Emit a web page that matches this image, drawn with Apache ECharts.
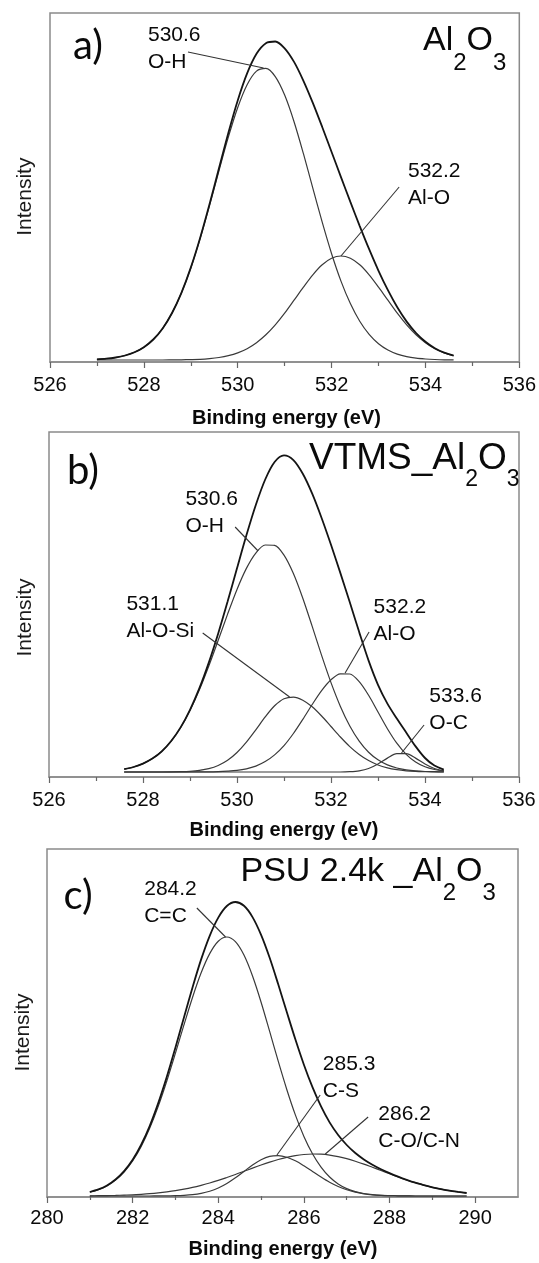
<!DOCTYPE html>
<html><head><meta charset="utf-8">
<script src="https://cdn.jsdelivr.net/npm/echarts@6/dist/echarts.min.js"></script>
<style>html,body{margin:0;padding:0;background:#fff}#c{width:539px;height:1263px}</style>
</head><body><div id="c"></div>
<script>
// ---------- Panel a: Al2O3, O 1s ----------
const energyA = [527.0,527.2,527.4,527.6,527.8,528.0,528.2,528.4,528.6,528.8,529.0,529.2,529.4,529.6,529.8,530.0,530.2,530.4,530.6,530.8,531.0,531.2,531.4,531.6,531.8,532.0,532.2,532.4,532.6,532.8,533.0,533.2,533.4,533.6,533.8,534.0,534.2,534.4,534.6];
const ohA  = [0.7,1.3,2.5,4.5,7.7,12.8,20.5,31.6,46.9,67.0,92.0,121.6,154.6,189.2,222.8,252.5,275.3,288.9,291.6,283.4,264.9,238.3,206.3,171.9,137.8,106.3,78.9,56.4,38.7,25.6,16.3,10.0,5.9,3.3,1.8,1.0,0.5,0.2,0.1];
const aloA = [0,0,0,0,0,0,0,0,0.1,0.2,0.4,0.7,1.4,2.5,4.3,7.1,11.3,17.3,25.2,35.1,46.8,59.8,72.9,85.2,95.2,101.7,104.0,101.7,95.2,85.2,72.9,59.8,46.8,35.1,25.2,17.3,11.3,7.1,4.3];
const envA = [0.7,1.3,2.5,4.5,7.7,12.8,20.5,31.6,47.0,67.2,92.4,122.3,156.0,191.7,227.1,259.6,286.6,306.2,316.8,318.5,311.7,298.1,279.2,257.1,233.0,208.0,182.9,158.1,133.9,110.8,89.2,69.8,52.7,38.4,27.0,18.3,11.8,7.3,4.4];
const leadersA = [[528.94,308,530.55,292],[533.44,173,532.2,104]];

// ---------- Panel b: VTMS_Al2O3, O 1s ----------
const energyB = [527.6,527.8,528.0,528.2,528.4,528.6,528.8,529.0,529.2,529.4,529.6,529.8,530.0,530.2,530.4,530.6,530.8,531.0,531.2,531.4,531.6,531.8,532.0,532.2,532.4,532.6,532.8,533.0,533.2,533.4,533.6,533.8,534.0,534.2,534.4];
const ohB    = [2.9,5.0,8.4,13.4,20.7,30.9,44.3,61.5,82.2,106.0,131.7,157.9,182.6,203.6,218.9,227.0,226.7,216.9,198.5,173.8,145.6,116.6,89.4,65.6,46.0,30.9,19.8,12.2,7.1,4.0,2.2,1.1,0.5,0.3,0.1];
const aloSiB = [0,0,0,0,0,0.1,0.3,0.7,1.6,3.3,6.5,11.7,19.5,29.9,42.2,55.1,66.2,73.3,74.9,71.8,65.2,56.0,45.5,35.0,25.4,17.5,11.4,7.0,4.1,2.3,1.2,0.6,0.3,0.1,0.1];
const aloB   = [0,0,0,0,0,0,0,0,0.1,0.1,0.3,0.8,1.6,3.2,5.9,10.4,17.1,26.4,38.5,52.6,67.5,81.4,92.3,98.2,98.0,90.3,76.7,60.0,43.3,28.8,17.7,10.0,5.2,2.5,1.1];
const ocB    = [0,0,0,0,0,0,0,0,0,0,0,0,0,0,0,0,0,0,0,0,0,0,0,0,0.3,1.2,3.5,8.0,13.9,18.4,18.4,13.9,8.0,3.5,1.2];
const envB   = [2.9,5.0,8.4,13.4,20.7,31.0,44.6,62.2,83.8,109.4,138.5,170.4,203.7,236.7,267.0,292.5,310.0,316.6,311.9,298.2,278.3,254.0,227.2,198.9,169.7,139.9,111.4,87.2,68.4,53.5,39.5,25.6,14.0,6.4,2.4];
const leadersB = [[529.96,245,530.45,221],[529.27,139,531.12,75],[532.81,140,532.3,99],[533.98,47,533.5,19]];

// ---------- Panel c: PSU 2.4k_Al2O3, C 1s ----------
const energyC = [281.0,281.2,281.4,281.6,281.8,282.0,282.2,282.4,282.6,282.8,283.0,283.2,283.4,283.6,283.8,284.0,284.2,284.4,284.6,284.8,285.0,285.2,285.4,285.6,285.8,286.0,286.2,286.4,286.6,286.8,287.0,287.2,287.4,287.6,287.8,288.0,288.2,288.4,288.6,288.8,289.0,289.2,289.4,289.6,289.8];
const ccC  = [3.8,6.3,10.1,15.9,24.0,35.0,49.6,67.9,89.9,115.2,142.9,171.3,198.8,223.2,242.4,254.8,259.0,254.3,240.9,220.0,193.8,164.6,134.8,106.5,81.1,59.6,42.2,28.9,19.0,12.1,7.4,4.4,2.5,1.4,0.7,0.4,0.2,0.1,0,0,0,0,0,0,0];
const csC  = [0,0,0,0,0,0,0,0,0.1,0.1,0.3,0.7,1.4,2.7,4.8,8.0,12.5,18.2,24.6,31.0,36.3,39.7,40.4,38.8,35.2,30.2,24.6,18.9,13.7,9.5,6.2,3.8,2.2,1.2,0.6,0.3,0.2,0.1,0,0,0,0,0,0,0];
const coC  = [0.2,0.3,0.4,0.6,0.9,1.2,1.7,2.3,3.1,4.1,5.3,6.8,8.6,10.7,13.0,15.6,18.5,21.5,24.7,27.9,31.0,33.9,36.5,38.7,40.4,41.5,42.0,41.8,40.9,39.4,37.4,34.8,31.9,28.7,25.5,22.2,19.0,16.0,13.3,10.9,8.7,6.9,5.3,4.1,3.0];
const envC = [4.0,6.6,10.5,16.5,24.9,36.2,51.3,70.2,93.1,119.4,148.5,178.8,208.8,236.6,260.2,278.4,290.0,294.0,290.2,278.9,261.1,238.2,211.7,184.0,156.7,131.3,108.8,89.6,73.6,61.0,51.0,43.0,36.6,31.3,26.8,22.9,19.4,16.2,13.3,10.9,8.7,6.9,5.3,4.1,3.0];
const leadersC = [[283.50,288,284.17,259],[286.38,101,285.37,41],[287.50,79,286.5,42]];
const majorTicksC = [280,282,284,286,288,290];
const minorTicksC = [281,283,285,287,289];

const FONT = '"Liberation Sans", Arial, sans-serif';
const chart = echarts.init(document.getElementById('c'), null, {renderer:'canvas'});

const grids = [
  {left:50, top:13, width:473, height:349},
  {left:49, top:432, width:470, height:345},
  {left:47, top:849, width:471, height:348}
];
function gridOpt(g){ return Object.assign({show:true, borderColor:'#8a8a8a', borderWidth:1.5, backgroundColor:'transparent', containLabel:false}, g); }

function xAxisOpt(i, min, max, margin, extra){
  return Object.assign({
    gridIndex:i, type:'value', min:min, max:max, interval:2, position:'bottom',
    axisLine:{show:true, onZero:false, lineStyle:{color:'#8a8a8a', width:1.5}},
    axisTick:{show:true, length:6, lineStyle:{color:'#666', width:1.2}},
    minorTick:{show:true, splitNumber:2, length:4, lineStyle:{color:'#666', width:1.2}},
    axisLabel:{margin:margin, fontSize:20, color:'#0a0a0a', fontFamily:FONT},
    splitLine:{show:false}, minorSplitLine:{show:false}
  }, extra||{});
}
function yAxisOpt(i, min, max){
  return {gridIndex:i, type:'value', min:min, max:max, show:true,
    axisLine:{show:false}, axisTick:{show:false}, axisLabel:{show:false}, splitLine:{show:false}};
}

function pairs(xs, ys){ return xs.map((x,k)=>[x, ys[k]]); }
function leaderLines(list){
  return {silent:true, symbol:['none','none'], animation:false,
    lineStyle:{color:'#333', width:1.1, type:'solid'}, label:{show:false},
    emphasis:{disabled:true},
    data:list.map(l=>[{coord:[l[0],l[1]]},{coord:[l[2],l[3]]}])};
}
function comp(idx, xs, ys, ml){
  const s = {type:'line', xAxisIndex:idx, yAxisIndex:idx, data:pairs(xs,ys), showSymbol:false,
    smooth:0.3, lineStyle:{color:'#3a3a3a', width:1.2}, z:3, silent:true};
  if (ml) s.markLine = ml;
  return s;
}
function env(idx, xs, ys){
  return {type:'line', xAxisIndex:idx, yAxisIndex:idx, data:pairs(xs,ys), showSymbol:false,
    smooth:0.3, lineStyle:{color:'#141414', width:1.8}, z:4, silent:true};
}

// text helpers
function peakLabel(x, y, text){
  return {type:'text', x:x, y:y, silent:true,
    style:{text:text, fontSize:21, lineHeight:27, fontFamily:FONT, fill:'#0a0a0a', align:'left', verticalAlign:'top'}};
}
function formula(x, y, parts, M, S, P){
  const txt = parts.map(p=>'{'+p[0]+'|'+p[1]+'}').join('');
  return {type:'text', x:x, y:y, silent:true,
    style:{text:txt, align:'left', verticalAlign:'top', fill:'#0a0a0a',
      rich:{
        m:{fontSize:M, lineHeight:M, fontFamily:FONT, fill:'#0a0a0a', verticalAlign:'top'},
        s:{fontSize:S, lineHeight:S, fontFamily:FONT, fill:'#0a0a0a', verticalAlign:'top', padding:[P,0,0,0]}
      }}};
}
function panelLetter(x, y, t){
  return {type:'text', x:x, y:y, silent:true,
    style:{text:t, fontSize:40, fontFamily:'Lato, "Open Sans", sans-serif', fill:'#0a0a0a', align:'left', verticalAlign:'top'}};
}
function yTitle(x, y){
  return {type:'text', x:x, y:y, rotation:Math.PI/2, silent:true,
    style:{text:'Intensity', fontSize:21, fontFamily:FONT, fill:'#1a1a1a', align:'center', verticalAlign:'middle'}};
}
function xTitle(x, y){
  return {type:'text', x:x, y:y, silent:true,
    style:{text:'Binding energy (eV)', fontSize:20, fontWeight:'bold', fontFamily:FONT, fill:'#0a0a0a', align:'center', verticalAlign:'top'}};
}

const option = {
  animation:false,
  backgroundColor:'#ffffff',
  grid: grids.map(gridOpt),
  xAxis:[
    xAxisOpt(0, 526, 536, 13),
    xAxisOpt(1, 526, 536, 13),
    xAxisOpt(2, 280, 291, 11, {
      minorTick:{show:false},
      axisTick:{show:true, length:6, customValues:majorTicksC, lineStyle:{color:'#666', width:1.2}},
      axisLabel:{margin:11, fontSize:20, color:'#0a0a0a', fontFamily:FONT, customValues:majorTicksC}
    }),
    {gridIndex:2, type:'value', min:280, max:291, position:'bottom',
      axisLine:{show:false}, axisLabel:{show:false}, splitLine:{show:false},
      axisTick:{show:true, length:4, customValues:minorTicksC, lineStyle:{color:'#666', width:1.2}}}
  ],
  yAxis:[ yAxisOpt(0,-2,347), yAxisOpt(1,-5,340), yAxisOpt(2,-1,347) ],
  series:[
    comp(0, energyA, ohA, leaderLines(leadersA)),
    comp(0, energyA, aloA),
    env(0, energyA, envA),

    comp(1, energyB, ohB, leaderLines(leadersB)),
    comp(1, energyB, aloSiB),
    comp(1, energyB, aloB),
    comp(1, energyB, ocB),
    env(1, energyB, envB),

    comp(2, energyC, ccC, leaderLines(leadersC)),
    comp(2, energyC, csC),
    comp(2, energyC, coC),
    env(2, energyC, envC)
  ],
  graphic:[
    panelLetter(73, 26, 'a)'),
    panelLetter(67, 451, 'b)'),
    panelLetter(63.5, 876, 'c)'),
    formula(423, 24.1, [['m','Al'],['s','2'],['m','O'],['s','3']], 34, 24, 27),
    formula(309, 439.8, [['m','VTMS_Al'],['s','2'],['m','O'],['s','3']], 37, 23, 28),
    formula(240.5, 855.1, [['m','PSU 2.4k _Al'],['s','2'],['m','O'],['s','3']], 34, 24, 26),
    peakLabel(148, 21.7, '530.6\nO-H'),
    peakLabel(408, 157.3, '532.2\nAl-O'),
    peakLabel(185.4, 485.7, '530.6\nO-H'),
    peakLabel(126.4, 590.7, '531.1\nAl-O-Si'),
    peakLabel(373.6, 594, '532.2\nAl-O'),
    peakLabel(429.3, 682.3, '533.6\nO-C'),
    peakLabel(144.2, 875.7, '284.2\nC=C'),
    peakLabel(322.8, 1050.7, '285.3\nC-S'),
    peakLabel(378.3, 1100.7, '286.2\nC-O/C-N'),
    yTitle(25, 196.7), yTitle(24.8, 617.5), yTitle(23, 1032.5),
    xTitle(286.5, 408.3), xTitle(284, 820.6), xTitle(283, 1239)
  ]
};
chart.setOption(option);
</script>
</body></html>
